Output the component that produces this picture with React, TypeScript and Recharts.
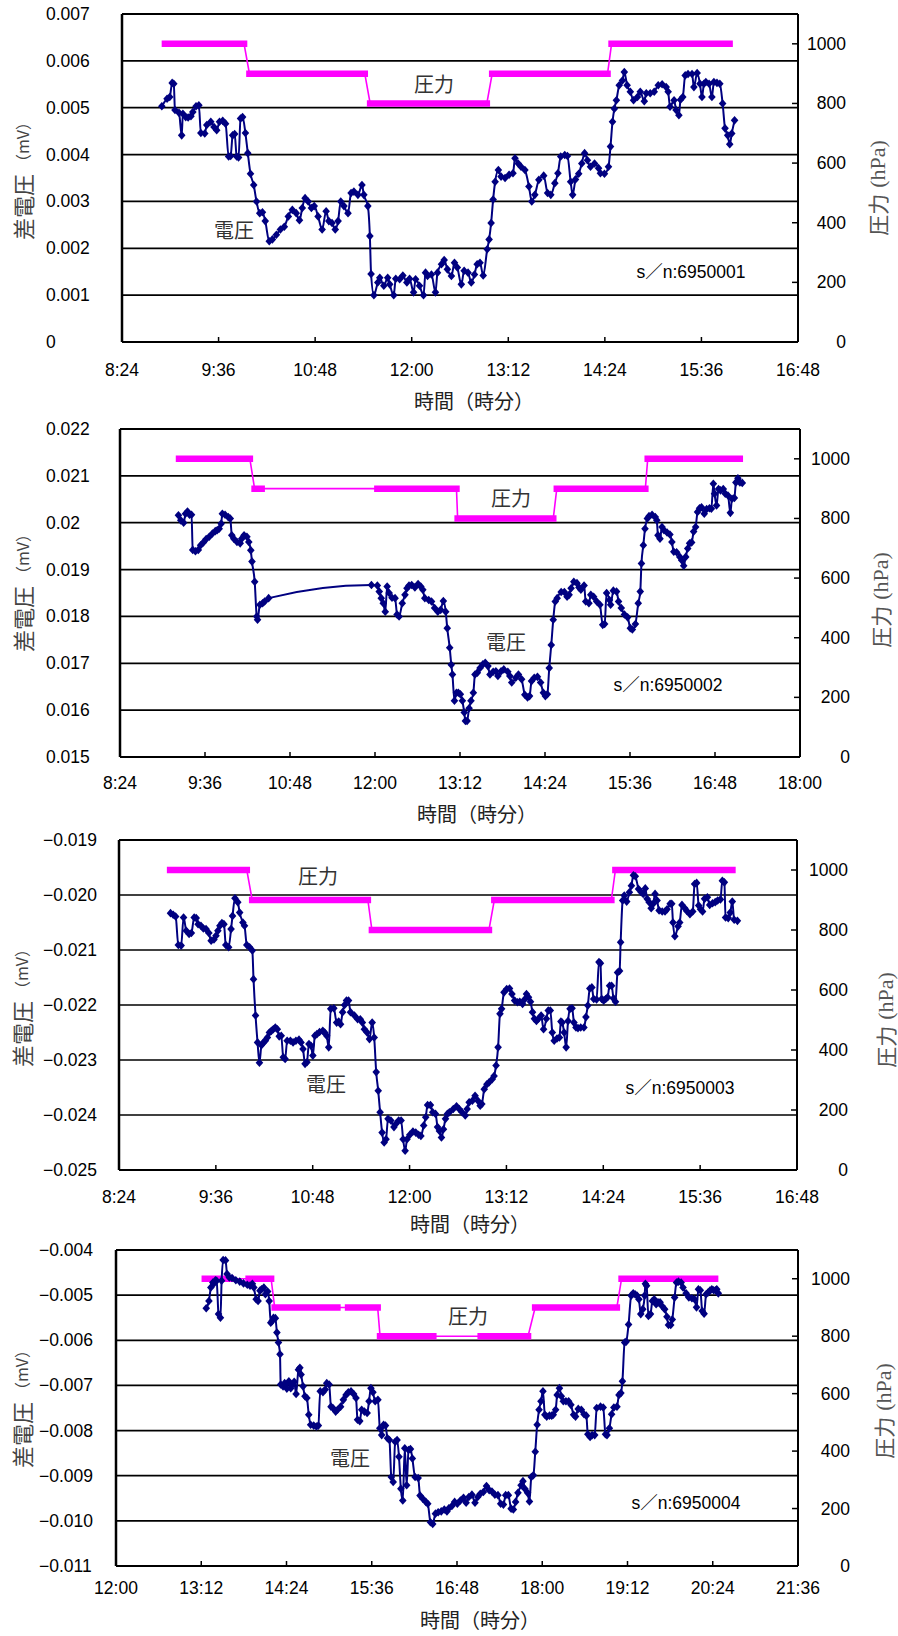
import React from 'react';
import { ComposedChart, Line, XAxis, YAxis, ReferenceLine } from 'recharts';

type Pt = [number, number]; // [minutes after midnight, differential voltage in 0.001 mV]
type Hold = [number, number, number]; // [start minute, end minute, pressure hPa]

const NUM_FONT = '"Liberation Sans", Arial, "Noto Sans CJK JP", sans-serif';
const JP_FONT = '"Noto Sans CJK JP", "Noto Sans", sans-serif';
const SERIF = '"Liberation Serif", "DejaVu Serif", serif';
const NAVY = '#000080';
const MAGENTA = '#ff00ff';

// time axes (minutes after midnight)
const timeTicksA = [504, 576, 648, 720, 792, 864, 936, 1008];
const timeLabelsA = ['8:24', '9:36', '10:48', '12:00', '13:12', '14:24', '15:36', '16:48'];
const timeTicksB = [504, 576, 648, 720, 792, 864, 936, 1008, 1080];
const timeLabelsB = ['8:24', '9:36', '10:48', '12:00', '13:12', '14:24', '15:36', '16:48', '18:00'];
const timeTicksC = [720, 792, 864, 936, 1008, 1080, 1152, 1224, 1296];
const timeLabelsC = ['12:00', '13:12', '14:24', '15:36', '16:48', '18:00', '19:12', '20:24', '21:36'];

const pressureTicks = [0, 200, 400, 600, 800, 1000];

// voltage ticks in 0.001 mV
const voltTicks1 = [0, 1, 2, 3, 4, 5, 6, 7];
const voltLabels1 = ['0', '0.001', '0.002', '0.003', '0.004', '0.005', '0.006', '0.007'];
const voltTicks2 = [15, 16, 17, 18, 19, 20, 21, 22];
const voltLabels2 = ['0.015', '0.016', '0.017', '0.018', '0.019', '0.02', '0.021', '0.022'];
const voltTicks3 = [-25, -24, -23, -22, -21, -20, -19];
const voltLabels3 = ['\u22120.025', '\u22120.024', '\u22120.023', '\u22120.022', '\u22120.021', '\u22120.020', '\u22120.019'];
const voltTicks4 = [-11, -10, -9, -8, -7, -6, -5, -4];
const voltLabels4 = ['\u22120.011', '\u22120.010', '\u22120.009', '\u22120.008', '\u22120.007', '\u22120.006', '\u22120.005', '\u22120.004'];

// s/n:6950001
const volt1: Pt[] = [
  [533.7, 5.03], [537.6, 5.19], [539.6, 5.23], [541.4, 5.53], [542.6, 5.51], [543.5, 4.95], [546.5, 4.89], [548.5, 4.41],
  [549.4, 4.87], [551.5, 4.8], [553.3, 4.79], [555.4, 4.82], [556.8, 4.91], [559.2, 5.03], [561.3, 5.05], [562.8, 4.46],
  [565.7, 4.45], [567.2, 4.63], [570.2, 4.7], [572.6, 4.59], [574.6, 4.52], [576.7, 4.7], [579.1, 4.72], [581.2, 4.66],
  [583.5, 3.96], [585.0, 3.97], [586.5, 4.41], [588.0, 4.44], [589.5, 3.96], [590.9, 3.94], [592.4, 4.77], [593.9, 4.8],
  [596.0, 4.46], [597.8, 4.03], [599.8, 3.59], [602.2, 3.35], [604.3, 3.0], [606.7, 2.75], [608.7, 2.77], [610.8, 2.58],
  [613.8, 2.15], [616.1, 2.19], [619.1, 2.29], [622.1, 2.4], [625.0, 2.46], [628.0, 2.68], [631.0, 2.82], [633.9, 2.75],
  [636.3, 2.6], [638.4, 2.86], [640.5, 3.07], [642.8, 3.0], [645.2, 2.86], [647.3, 2.9], [650.2, 2.68], [653.2, 2.4],
  [656.2, 2.79], [658.2, 2.58], [660.6, 2.54], [663.0, 2.4], [665.1, 2.58], [667.1, 3.0], [669.5, 2.9], [672.5, 2.75],
  [674.8, 3.18], [676.9, 3.21], [679.9, 3.14], [682.9, 3.35], [684.3, 3.14], [687.3, 2.9], [688.8, 2.26], [689.7, 1.45],
  [691.8, 1.0], [694.7, 1.27], [696.2, 1.37], [699.2, 1.2], [702.1, 1.37], [703.6, 1.23], [706.6, 1.0], [708.1, 1.35],
  [711.0, 1.34], [713.4, 1.42], [716.4, 1.27], [718.4, 1.35], [721.4, 1.06], [722.9, 1.34], [725.8, 1.2], [728.8, 1.0],
  [730.3, 1.48], [731.8, 1.41], [734.7, 1.44], [737.7, 1.06], [739.2, 1.48], [742.2, 1.66], [744.2, 1.75], [746.6, 1.55],
  [749.6, 1.41], [751.9, 1.69], [754.0, 1.59], [757.0, 1.23], [759.1, 1.52], [762.0, 1.48], [764.4, 1.27], [766.8, 1.44],
  [768.8, 1.66], [770.9, 1.69], [773.3, 1.42], [776.3, 1.98], [777.7, 2.19], [779.2, 2.54], [780.7, 3.04], [782.2, 3.42],
  [784.6, 3.67], [786.6, 3.53], [789.6, 3.5], [792.6, 3.57], [795.5, 3.6], [797.0, 3.92], [799.4, 3.81], [801.5, 3.74],
  [804.4, 3.67], [807.4, 3.32], [809.5, 3.0], [811.8, 3.14], [814.8, 3.46], [818.4, 3.55], [821.3, 3.18], [823.7, 3.14],
  [826.7, 3.39], [829.0, 3.6], [831.1, 3.96], [834.1, 3.99], [836.1, 3.97], [838.5, 3.42], [840.0, 3.14], [842.1, 3.47],
  [844.5, 3.59], [846.8, 3.81], [848.9, 4.03], [851.0, 3.88], [853.3, 3.74], [856.3, 3.81], [859.3, 3.71], [860.7, 3.6],
  [863.7, 3.59], [866.7, 3.74], [868.2, 4.17], [869.7, 4.7], [871.1, 4.98], [872.6, 5.16], [874.7, 5.48], [877.1, 5.58],
  [878.5, 5.76], [880.6, 5.48], [883.0, 5.34], [885.4, 5.16], [888.3, 5.23], [890.4, 5.34], [893.4, 5.14], [894.9, 5.31],
  [897.8, 5.31], [900.8, 5.34], [903.8, 5.48], [906.7, 5.5], [909.7, 5.44], [911.2, 5.34], [912.6, 5.02], [915.6, 5.16],
  [917.1, 4.95], [919.2, 4.84], [920.4, 5.17], [922.1, 5.23], [923.9, 5.69], [926.0, 5.72], [929.0, 5.72], [930.4, 5.44],
  [932.8, 5.74], [934.9, 5.51], [936.4, 5.23], [937.9, 5.51], [939.3, 5.55], [941.7, 5.51], [943.8, 5.23], [945.3, 5.55],
  [947.6, 5.53], [949.7, 5.51], [951.8, 5.09], [953.6, 4.56], [955.6, 4.41], [957.1, 4.22], [958.6, 4.45], [960.7, 4.73],
];
const holds1: Hold[] = [
  [536, 595, 1000], [599, 685, 900], [689, 776, 800], [780, 866, 900], [869, 957, 1000],
];

// s/n:6950002
const volt2: Pt[] = [
  [553.5, 20.16], [555.5, 20.05], [557.9, 20.0], [559.5, 20.19], [561.2, 20.24], [562.9, 20.17], [564.6, 20.17], [565.6, 19.42],
  [567.9, 19.39], [570.3, 19.42], [572.3, 19.52], [574.6, 19.58], [577.0, 19.65], [579.6, 19.7], [582.3, 19.77], [584.7, 19.82],
  [586.3, 19.84], [588.0, 19.87], [589.7, 19.98], [590.7, 20.19], [593.0, 20.17], [595.7, 20.12], [597.4, 20.09], [598.7, 19.73],
  [600.4, 19.66], [603.1, 19.59], [605.8, 19.56], [607.1, 19.66], [609.1, 19.73], [611.5, 19.7], [613.1, 19.59], [614.8, 19.41],
  [615.8, 19.17], [618.1, 18.74], [619.8, 18.0], [620.5, 17.93], [622.5, 18.25], [624.8, 18.28], [626.5, 18.32], [629.9, 18.39],
  [717.0, 18.67], [722.0, 18.66], [723.6, 18.53], [725.3, 18.39], [727.0, 18.28], [728.7, 18.1], [730.3, 18.64], [732.0, 18.5],
  [734.4, 18.4], [737.0, 18.39], [738.7, 18.04], [740.4, 18.0], [743.1, 18.28], [745.4, 18.46], [747.1, 18.6], [748.8, 18.66],
  [751.1, 18.67], [753.8, 18.62], [756.5, 18.69], [758.8, 18.64], [760.5, 18.57], [762.2, 18.39], [765.5, 18.35], [767.9, 18.32],
  [770.5, 18.18], [773.2, 18.1], [775.6, 18.14], [777.9, 18.33], [779.9, 18.1], [781.2, 17.75], [783.3, 17.33], [784.6, 16.97],
  [785.6, 16.76], [787.3, 16.2], [789.0, 16.37], [790.6, 16.37], [792.3, 16.34], [794.0, 16.2], [795.6, 15.95], [796.6, 15.77],
  [798.0, 15.77], [799.7, 16.04], [801.3, 16.2], [803.3, 16.37], [804.7, 16.76], [806.7, 16.8], [809.0, 16.9], [811.4, 16.98],
  [813.4, 17.01], [815.7, 16.94], [817.4, 16.76], [820.1, 16.82], [822.4, 16.83], [824.1, 16.73], [826.8, 16.83], [829.1, 16.87],
  [832.5, 16.82], [834.2, 16.73], [835.8, 16.59], [839.2, 16.69], [841.5, 16.76], [844.2, 16.66], [846.9, 16.33], [849.2, 16.27],
  [850.9, 16.3], [852.6, 16.62], [854.9, 16.69], [857.6, 16.71], [860.3, 16.59], [862.6, 16.37], [864.3, 16.3], [866.0, 16.34],
  [867.6, 16.9], [869.3, 17.39], [871.0, 17.93], [872.7, 18.32], [874.3, 18.39], [877.7, 18.52], [880.4, 18.52], [882.7, 18.42],
  [884.4, 18.46], [886.1, 18.6], [888.4, 18.74], [891.1, 18.71], [892.8, 18.62], [894.4, 18.57], [897.1, 18.66], [898.5, 18.32],
  [901.2, 18.28], [902.8, 18.46], [905.2, 18.42], [907.8, 18.32], [910.5, 18.25], [912.9, 17.82], [914.5, 17.84], [916.2, 18.5],
  [918.6, 18.35], [919.6, 18.25], [921.9, 18.55], [924.6, 18.53], [926.3, 18.32], [928.6, 18.18], [931.3, 18.04], [934.0, 17.98],
  [936.3, 17.75], [938.0, 17.72], [940.6, 17.84], [943.0, 18.28], [944.7, 18.53], [945.7, 19.13], [947.3, 19.52], [948.7, 19.87],
  [950.7, 20.09], [952.1, 20.14], [954.7, 20.17], [957.4, 20.12], [958.7, 20.05], [959.7, 19.73], [961.4, 19.66], [963.1, 19.91],
  [964.8, 19.84], [967.4, 19.79], [969.8, 19.75], [971.5, 19.59], [973.1, 19.38], [975.5, 19.37], [978.2, 19.27], [979.8, 19.2],
  [981.5, 19.08], [983.2, 19.27], [984.9, 19.45], [986.5, 19.56], [988.2, 19.58], [989.9, 19.81], [991.6, 19.91], [993.2, 20.23],
  [994.9, 20.31], [996.6, 20.33], [998.9, 20.19], [1000.9, 20.29], [1003.3, 20.31], [1004.9, 20.3], [1006.6, 20.83], [1007.6, 20.62],
  [1009.3, 20.37], [1011.0, 20.72], [1012.7, 20.69], [1015.0, 20.72], [1016.7, 20.62], [1019.0, 20.58], [1021.0, 20.21], [1022.4, 20.51],
  [1024.4, 20.53], [1025.7, 20.86], [1027.4, 20.95], [1029.1, 20.86], [1031.1, 20.85],
];
const holds2: Hold[] = [
  [554, 614, 1000], [618, 624, 900], [722, 789, 900], [790, 871, 800], [874, 949, 900], [951, 1029, 1000],
];

// s/n:6950003
const volt3: Pt[] = [
  [542.3, -20.33], [544.3, -20.36], [546.1, -20.39], [548.1, -20.91], [550.2, -20.92], [552.0, -20.41], [554.0, -20.65], [556.1, -20.71],
  [557.8, -20.69], [559.9, -20.41], [561.4, -20.42], [562.8, -20.53], [564.9, -20.56], [566.7, -20.61], [568.7, -20.62], [570.8, -20.69],
  [572.5, -20.83], [574.6, -20.81], [576.1, -20.74], [577.5, -20.65], [579.0, -20.56], [580.5, -20.51], [582.0, -20.53], [583.4, -20.91],
  [585.5, -20.95], [587.3, -20.62], [588.4, -20.38], [590.2, -20.06], [592.3, -20.13], [593.7, -20.32], [596.1, -20.5], [597.3, -20.56],
  [599.0, -20.91], [601.1, -20.95], [603.1, -21.01], [604.0, -21.53], [605.5, -22.19], [607.0, -22.68], [608.4, -23.05], [609.9, -22.73],
  [611.4, -22.68], [612.8, -22.65], [614.3, -22.59], [615.8, -22.5], [617.3, -22.47], [618.7, -22.44], [620.2, -22.41], [621.7, -22.44],
  [623.1, -22.57], [624.6, -22.56], [626.1, -22.95], [627.5, -22.98], [629.0, -22.65], [631.4, -22.65], [633.4, -22.68], [635.5, -22.65],
  [637.8, -22.63], [639.3, -22.68], [640.8, -22.8], [642.3, -23.07], [643.7, -23.04], [645.2, -22.71], [646.7, -22.74], [648.1, -22.92],
  [649.6, -22.56], [651.1, -22.53], [653.1, -22.49], [655.5, -22.47], [656.9, -22.5], [658.4, -22.56], [659.9, -22.77], [661.4, -22.07],
  [663.7, -22.06], [665.8, -22.32], [667.3, -22.3], [668.7, -22.35], [670.2, -22.13], [671.7, -22.0], [673.1, -21.92], [674.6, -21.92],
  [676.1, -22.13], [679.0, -22.19], [681.4, -22.26], [683.4, -22.26], [684.9, -22.32], [686.4, -22.44], [688.4, -22.5], [690.2, -22.62],
  [692.2, -22.32], [693.7, -22.59], [695.2, -23.22], [696.7, -23.56], [698.1, -23.95], [699.6, -24.32], [701.1, -24.5], [702.5, -24.44],
  [704.0, -24.07], [706.1, -24.1], [708.4, -24.22], [709.9, -24.16], [711.9, -24.1], [713.7, -24.1], [715.2, -24.44], [716.7, -24.65],
  [718.1, -24.44], [720.2, -24.36], [722.5, -24.3], [724.6, -24.32], [726.7, -24.36], [728.4, -24.38], [730.5, -24.19], [732.0, -24.04],
  [733.4, -23.82], [735.5, -23.82], [737.2, -23.95], [739.3, -23.98], [740.8, -24.22], [742.2, -24.29], [743.7, -24.41], [745.2, -24.26],
  [746.7, -24.07], [748.1, -23.98], [749.6, -23.95], [752.5, -23.89], [754.9, -23.84], [756.9, -23.89], [759.0, -23.95], [761.4, -24.01],
  [762.8, -23.89], [764.3, -23.77], [766.7, -23.74], [768.7, -23.65], [770.8, -23.74], [772.5, -23.83], [773.7, -23.8], [775.5, -23.53],
  [777.5, -23.44], [779.0, -23.41], [781.4, -23.35], [782.8, -23.29], [784.3, -23.1], [785.8, -22.77], [787.2, -22.16], [788.4, -22.07],
  [790.2, -21.77], [792.2, -21.71], [794.3, -21.7], [796.1, -21.8], [798.1, -21.92], [800.2, -21.95], [801.9, -21.94], [804.0, -21.98],
  [805.5, -21.9], [806.9, -21.8], [808.4, -21.86], [809.9, -21.94], [811.4, -22.13], [812.8, -22.25], [814.3, -22.29], [815.8, -22.25],
  [817.8, -22.19], [819.6, -22.44], [821.7, -22.25], [823.1, -22.1], [824.6, -22.1], [826.1, -22.5], [827.5, -22.65], [829.6, -22.61],
  [831.4, -22.59], [832.5, -22.3], [833.4, -22.32], [834.9, -22.5], [836.4, -22.77], [837.8, -22.29], [839.3, -22.07], [840.8, -22.06],
  [842.2, -22.32], [843.7, -22.41], [845.2, -22.42], [847.2, -22.41], [849.6, -22.41], [851.1, -22.22], [852.5, -22.01], [854.0, -21.7],
  [855.5, -21.68], [856.9, -21.89], [859.0, -21.9], [860.8, -21.22], [861.9, -21.24], [862.8, -21.89], [864.3, -21.92], [865.8, -21.89],
  [867.2, -21.86], [868.7, -21.65], [870.2, -21.65], [871.6, -21.88], [873.1, -21.94], [874.6, -21.41], [876.1, -21.38], [876.9, -20.86],
  [878.4, -20.1], [879.6, -20.01], [881.4, -20.12], [883.4, -19.95], [884.9, -19.83], [886.4, -19.64], [887.8, -19.66], [890.2, -19.89],
  [892.2, -19.95], [893.7, -19.98], [895.2, -19.88], [896.6, -20.07], [898.1, -20.13], [899.6, -20.24], [901.1, -20.16], [902.5, -19.98],
  [904.0, -20.1], [905.5, -20.28], [907.8, -20.3], [909.9, -20.3], [911.4, -20.26], [913.7, -20.16], [914.9, -20.16], [915.8, -20.5],
  [917.2, -20.75], [919.6, -20.57], [920.8, -20.5], [922.5, -20.18], [924.6, -20.24], [926.1, -20.29], [928.4, -20.35], [930.5, -20.3],
  [931.9, -19.8], [933.4, -19.78], [934.9, -20.19], [936.3, -20.26], [937.8, -20.3], [939.3, -20.07], [941.4, -20.04], [943.1, -20.18],
  [945.2, -20.15], [947.2, -20.13], [949.0, -20.1], [951.1, -20.08], [952.5, -19.74], [954.0, -19.77], [954.9, -20.41], [956.9, -20.42],
  [958.4, -20.32], [959.9, -20.12], [961.3, -20.45], [963.7, -20.47],
];
const holds3: Hold[] = [
  [542, 599, 1000], [603, 689, 900], [692, 779, 800], [783, 870, 900], [873, 960, 1000],
];

// s/n:6950004
const volt4: Pt[] = [
  [796.2, -5.29], [798.5, -5.13], [800.1, -4.83], [801.8, -4.72], [802.7, -4.74], [804.0, -4.67], [805.0, -4.68], [806.6, -5.42],
  [808.2, -5.5], [809.2, -4.68], [810.5, -4.22], [812.5, -4.23], [813.8, -4.53], [815.7, -4.61], [818.0, -4.62], [821.2, -4.67],
  [824.5, -4.7], [827.7, -4.74], [830.9, -4.77], [833.2, -4.79], [835.2, -4.75], [836.4, -4.83], [838.4, -5.09], [840.0, -5.13],
  [841.6, -4.9], [842.9, -4.87], [844.9, -4.83], [846.2, -4.98], [848.1, -4.92], [849.4, -5.13], [850.7, -5.61], [852.0, -5.57],
  [853.0, -5.5], [854.6, -5.51], [855.9, -5.83], [857.2, -6.05], [858.5, -6.31], [859.1, -6.98], [861.1, -7.02], [862.4, -6.95],
  [864.3, -7.07], [866.0, -6.91], [867.6, -7.06], [868.9, -6.98], [870.5, -6.92], [872.1, -7.19], [874.1, -6.65], [875.3, -6.61],
  [876.3, -6.76], [878.0, -7.02], [879.6, -7.24], [881.2, -7.28], [882.8, -7.65], [884.4, -7.87], [887.0, -7.89], [889.3, -7.91],
  [890.9, -7.89], [892.5, -7.13], [894.8, -7.15], [896.7, -7.09], [898.0, -6.95], [900.0, -6.98], [901.6, -7.47], [903.2, -7.5],
  [905.5, -7.58], [907.1, -7.54], [909.7, -7.47], [912.0, -7.32], [914.3, -7.21], [916.2, -7.15], [918.5, -7.13], [920.7, -7.19],
  [922.7, -7.28], [924.0, -7.76], [925.9, -7.79], [927.5, -7.54], [929.8, -7.58], [932.1, -7.61], [933.7, -7.35], [935.3, -7.06],
  [937.0, -7.15], [938.9, -7.35], [941.2, -7.32], [942.8, -7.95], [944.4, -8.1], [946.0, -7.87], [947.6, -7.89], [949.3, -8.17],
  [950.9, -8.21], [952.5, -9.03], [954.1, -9.14], [955.8, -8.25], [957.4, -8.21], [959.0, -8.58], [960.6, -9.29], [962.2, -9.55],
  [963.9, -8.39], [965.5, -9.21], [967.1, -8.43], [968.7, -8.41], [970.3, -8.62], [972.6, -9.03], [975.2, -9.05], [976.8, -9.44],
  [979.1, -9.51], [981.7, -9.58], [983.3, -9.62], [985.6, -10.03], [987.5, -10.07], [989.8, -9.84], [992.1, -9.81], [994.7, -9.79],
  [997.3, -9.75], [999.5, -9.79], [1001.1, -9.72], [1003.7, -9.67], [1006.0, -9.58], [1008.3, -9.62], [1010.9, -9.55], [1013.5, -9.49],
  [1015.7, -9.6], [1018.0, -9.47], [1020.6, -9.42], [1023.2, -9.6], [1025.5, -9.47], [1027.7, -9.4], [1030.3, -9.36], [1032.9, -9.23],
  [1035.2, -9.32], [1037.5, -9.35], [1040.0, -9.42], [1042.6, -9.43], [1044.9, -9.62], [1047.2, -9.64], [1049.1, -9.43], [1051.4, -9.43],
  [1053.7, -9.73], [1055.6, -9.75], [1057.5, -9.58], [1059.5, -9.38], [1062.1, -9.21], [1063.7, -9.12], [1065.3, -9.29], [1067.6, -9.38],
  [1069.2, -9.57], [1070.8, -9.03], [1072.5, -8.99], [1074.1, -8.47], [1075.7, -7.87], [1077.3, -7.54], [1078.9, -7.35], [1080.6, -7.13],
  [1082.2, -7.65], [1083.8, -7.69], [1086.1, -7.67], [1088.0, -7.67], [1089.3, -7.65], [1091.3, -7.54], [1092.6, -7.21], [1094.5, -7.06],
  [1096.1, -7.24], [1097.8, -7.35], [1100.0, -7.35], [1102.3, -7.35], [1104.2, -7.43], [1106.5, -7.65], [1108.1, -7.69], [1110.4, -7.52],
  [1113.0, -7.54], [1115.3, -7.64], [1117.2, -7.67], [1118.5, -8.08], [1120.4, -8.14], [1122.1, -8.1], [1124.3, -8.1], [1126.0, -7.5],
  [1129.2, -7.47], [1131.5, -7.49], [1133.4, -8.08], [1134.7, -8.1], [1136.7, -7.95], [1138.6, -7.64], [1140.5, -7.49], [1143.1, -7.47],
  [1144.8, -7.21], [1146.4, -7.17], [1147.7, -6.91], [1149.6, -6.05], [1150.9, -6.03], [1152.9, -5.65], [1155.1, -5.01], [1156.8, -4.96],
  [1158.4, -4.98], [1160.0, -5.01], [1161.6, -5.09], [1163.2, -5.42], [1164.9, -5.31], [1166.5, -5.01], [1167.1, -4.75], [1168.1, -4.79],
  [1169.7, -5.46], [1171.4, -5.42], [1173.0, -5.13], [1174.6, -5.09], [1176.2, -5.2], [1177.8, -5.16], [1179.5, -5.16], [1181.1, -5.24],
  [1183.4, -5.31], [1185.3, -5.48], [1186.6, -5.66], [1188.5, -5.66], [1189.8, -5.54], [1191.8, -5.05], [1193.4, -4.72], [1195.0, -4.7],
  [1197.3, -4.72], [1198.9, -4.83], [1201.5, -4.96], [1203.8, -5.05], [1206.4, -5.07], [1208.6, -5.09], [1210.3, -5.27], [1211.9, -4.87],
  [1213.5, -4.89], [1215.1, -5.35], [1216.7, -5.41], [1218.4, -4.98], [1220.0, -4.94], [1221.6, -4.9], [1223.2, -4.87], [1224.8, -4.89],
  [1226.5, -4.89], [1227.4, -4.87], [1228.7, -4.96],
];
const holds4: Hold[] = [
  [795, 817, 1000], [832, 851, 1000], [854, 907, 900], [916, 941, 900], [943, 988, 800], [1028, 1068, 800],
  [1074, 1143, 900], [1147, 1226, 1000],
];

interface Layout {
  top: number;
  height: number;
  plot: { l: number; r: number; t: number; b: number };
  vLabelX: number;
  pLabelRight: number;
  xLabelY: number;
  xTitle: [number, number];
  vTitle: [number, number];
  pTitle: [number, number];
  pNote: [number, number];
  vNote: [number, number];
  snNote: [number, number];
}

interface Panel {
  serial: string;
  volt: Pt[];
  holds: Hold[];
  tDomain: [number, number];
  tTicks: number[];
  tLabels: string[];
  vDomain: [number, number];
  vTicks: number[];
  vLabels: string[];
  layout: Layout;
}

const panels: Panel[] = [
  {
    serial: 's\uff0fn:6950001', volt: volt1, holds: holds1,
    tDomain: [504, 1008], tTicks: timeTicksA, tLabels: timeLabelsA,
    vDomain: [0, 7], vTicks: voltTicks1, vLabels: voltLabels1,
    layout: {
      top: 0, height: 410, plot: { l: 122, r: 798, t: 14, b: 342 },
      vLabelX: 46, pLabelRight: 846, xLabelY: 370,
      xTitle: [474, 400], vTitle: [22, 177], pTitle: [877, 188],
      pNote: [434, 83], vNote: [234, 229], snNote: [691, 272],
    },
  },
  {
    serial: 's\uff0fn:6950002', volt: volt2, holds: holds2,
    tDomain: [504, 1080], tTicks: timeTicksB, tLabels: timeLabelsB,
    vDomain: [15, 22], vTicks: voltTicks2, vLabels: voltLabels2,
    layout: {
      top: 410, height: 410, plot: { l: 120, r: 800, t: 19, b: 347 },
      vLabelX: 46, pLabelRight: 850, xLabelY: 373,
      xTitle: [477, 403], vTitle: [22, 179], pTitle: [880, 190],
      pNote: [511, 87], vNote: [506, 231], snNote: [668, 275],
    },
  },
  {
    serial: 's\uff0fn:6950003', volt: volt3, holds: holds3,
    tDomain: [504, 1008], tTicks: timeTicksA, tLabels: timeLabelsA,
    vDomain: [-25, -19], vTicks: voltTicks3, vLabels: voltLabels3,
    layout: {
      top: 820, height: 410, plot: { l: 119, r: 797, t: 20, b: 350 },
      vLabelX: 43, pLabelRight: 848, xLabelY: 377,
      xTitle: [470, 403], vTitle: [21, 184], pTitle: [885, 200],
      pNote: [318, 55], vNote: [326, 263], snNote: [680, 268],
    },
  },
  {
    serial: 's\uff0fn:6950004', volt: volt4, holds: holds4,
    tDomain: [720, 1296], tTicks: timeTicksC, tLabels: timeLabelsC,
    vDomain: [-11, -4], vTicks: voltTicks4, vLabels: voltLabels4,
    layout: {
      top: 1230, height: 406, plot: { l: 116, r: 798, t: 20, b: 336 },
      vLabelX: 39, pLabelRight: 850, xLabelY: 358,
      xTitle: [480, 389], vTitle: [21, 175], pTitle: [883, 181],
      pNote: [468, 85], vNote: [350, 227], snNote: [686, 273],
    },
  },
];

const WIDTH = 898;

function diamond(props: any) {
  const { cx, cy, index } = props;
  if (cx == null || cy == null) return <g key={`m${index}`} />;
  return (
    <path
      key={`m${index}`}
      d={`M${cx},${cy - 4.3}L${cx + 3.8},${cy}L${cx},${cy + 4.3}L${cx - 3.8},${cy}Z`}
      fill={NAVY}
    />
  );
}

function SensorPanel({ panel }: { panel: Panel }) {
  const { layout: L } = panel;
  const { plot } = L;

  // thick bars for each pressure hold, broken between holds
  const holdRows: { t: number; p: number | null }[] = [];
  panel.holds.forEach(([s, e, p], i) => {
    if (i > 0) holdRows.push({ t: (panel.holds[i - 1][1] + s) / 2, p: null });
    holdRows.push({ t: s, p }, { t: e, p });
  });
  // thin line joining every hold
  const stepRows = panel.holds.flatMap(([s, e, p]) => [{ t: s, p }, { t: e, p }]);
  const voltRows = panel.volt.map(([t, v]) => ({ t, v }));

  const xTick = (props: any) => {
    const { x, payload } = props;
    const label = panel.tLabels[panel.tTicks.indexOf(payload.value)];
    return (
      <g>
        <line x1={x} x2={x} y1={plot.b} y2={plot.b - 5} stroke="#000" strokeWidth={1.5} />
        <text x={x} y={L.xLabelY + 6} textAnchor="middle" fontFamily={NUM_FONT} fontSize={17.5} fill="#000">
          {label}
        </text>
      </g>
    );
  };

  const vTick = (props: any) => {
    const { y, payload } = props;
    const label = panel.vLabels[panel.vTicks.indexOf(payload.value)];
    return (
      <text x={L.vLabelX} y={y + 6} textAnchor="start" fontFamily={NUM_FONT} fontSize={17.5} fill="#000">
        {label}
      </text>
    );
  };

  const pTick = (props: any) => {
    const { y, payload } = props;
    return (
      <g>
        <line x1={plot.r - 6} x2={plot.r} y1={y} y2={y} stroke="#000" strokeWidth={1.5} />
        <text x={L.pLabelRight} y={y + 6} textAnchor="end" fontFamily={NUM_FONT} fontSize={17.5} fill="#000">
          {payload.value}
        </text>
      </g>
    );
  };

  return (
    <div style={{ position: 'absolute', left: 0, top: L.top, width: WIDTH, height: L.height }}>
      <ComposedChart
        width={WIDTH}
        height={L.height}
        margin={{ top: plot.t, right: 0, bottom: 0, left: 0 }}
      >
        <XAxis
          dataKey="t"
          type="number"
          domain={panel.tDomain}
          ticks={panel.tTicks}
          interval={0}
          allowDataOverflow
          height={L.height - plot.b}
          axisLine={{ stroke: '#000', strokeWidth: 2 }}
          tickLine={false}
          tick={xTick}
        />
        <YAxis
          yAxisId="v"
          orientation="left"
          type="number"
          domain={panel.vDomain}
          ticks={panel.vTicks}
          interval={0}
          allowDataOverflow
          width={plot.l}
          axisLine={{ stroke: '#000', strokeWidth: 2.5 }}
          tickLine={false}
          tick={vTick}
        />
        <YAxis
          yAxisId="p"
          orientation="right"
          type="number"
          domain={[0, 1100]}
          ticks={pressureTicks}
          interval={0}
          allowDataOverflow
          width={WIDTH - plot.r}
          axisLine={{ stroke: '#000', strokeWidth: 2 }}
          tickLine={false}
          tick={pTick}
        />
        {panel.vTicks.map((v) => (
          <ReferenceLine key={`g${v}`} yAxisId="v" y={v} stroke="#000" strokeWidth={v === panel.vDomain[1] ? 2 : 1.7} />
        ))}
        <Line
          yAxisId="p"
          data={stepRows}
          dataKey="p"
          type="linear"
          stroke={MAGENTA}
          strokeWidth={1.6}
          dot={false}
          isAnimationActive={false}
        />
        <Line
          yAxisId="p"
          data={holdRows}
          dataKey="p"
          type="linear"
          stroke={MAGENTA}
          strokeWidth={6.5}
          strokeLinecap="square"
          connectNulls={false}
          dot={false}
          isAnimationActive={false}
        />
        <Line
          yAxisId="v"
          data={voltRows}
          dataKey="v"
          type="monotone"
          stroke={NAVY}
          strokeWidth={2}
          dot={diamond}
          isAnimationActive={false}
        />
      </ComposedChart>
      <svg
        width={WIDTH}
        height={L.height}
        style={{ position: 'absolute', left: 0, top: 0, pointerEvents: 'none', overflow: 'visible' }}
      >
        <text
          x={L.xTitle[0]}
          y={L.xTitle[1]}
          textAnchor="middle"
          dominantBaseline="central"
          fontFamily={JP_FONT}
          fontSize={20}
          fill="#222"
        >
          時間（時分）
        </text>
        <text
          transform={`translate(${L.vTitle[0]},${L.vTitle[1]}) rotate(-90)`}
          textAnchor="middle"
          dominantBaseline="central"
          fontFamily={JP_FONT}
          fontSize={22}
          fill="#444"
        >
          差電圧
          <tspan fontSize={16} dx={4}>（mV）</tspan>
        </text>
        <text
          transform={`translate(${L.pTitle[0]},${L.pTitle[1]}) rotate(-90)`}
          textAnchor="middle"
          dominantBaseline="central"
          fontFamily={JP_FONT}
          fontSize={21}
          fill="#555"
        >
          圧力
          <tspan fontFamily={SERIF} fontSize={22} dx={6}>(hPa)</tspan>
        </text>
        <text x={L.pNote[0]} y={L.pNote[1]} textAnchor="middle" dominantBaseline="central" fontFamily={JP_FONT} fontSize={20} fill="#333">
          圧力
        </text>
        <text x={L.vNote[0]} y={L.vNote[1]} textAnchor="middle" dominantBaseline="central" fontFamily={JP_FONT} fontSize={20} fill="#333">
          電圧
        </text>
        <text x={L.snNote[0]} y={L.snNote[1]} textAnchor="middle" dominantBaseline="central" fontFamily={NUM_FONT} fontSize={17.5} fill="#000">
          {panel.serial}
        </text>
      </svg>
    </div>
  );
}

export default function App() {
  return (
    <div style={{ position: 'absolute', left: 0, top: 0, width: WIDTH, height: 1636, background: '#fff' }}>
      {panels.map((p) => (
        <SensorPanel key={p.serial} panel={p} />
      ))}
    </div>
  );
}
